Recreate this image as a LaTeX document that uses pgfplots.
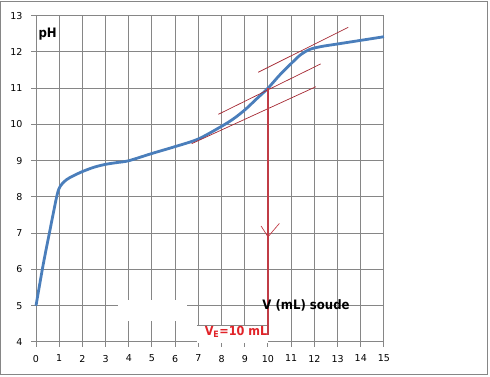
\documentclass[border=0pt]{standalone}
\usepackage{fontspec}
\setmainfont{DejaVu Sans}
\newfontfamily\condf{DejaVu Sans Condensed}
\usepackage{pgfplots}
\pgfplotsset{compat=1.18}
\definecolor{gridgray}{RGB}{134,134,134}
\definecolor{curveblue}{RGB}{74,126,187}
\definecolor{tanred}{RGB}{165,40,50}
\definecolor{vred}{RGB}{192,60,70}
\definecolor{txtred}{RGB}{225,35,40}
\begin{document}
\begin{tikzpicture}
\begin{axis}[
 scale only axis, width=348pt, height=326.3pt,
 xmin=0, xmax=15, ymin=4, ymax=13,
 xtick={0,...,15}, ytick={4,...,13},
 grid=major, grid style={gridgray, line width=1pt},
 axis line style={gridgray, line width=1pt},
 tick style={gridgray, line width=1pt},
 tick align=outside, major tick length=5pt,
 xtick pos=bottom, ytick pos=left,
 ticklabel style={font=\fontsize{9.5}{11}\selectfont, text=black},
 yticklabel style={xshift=-5pt},
 xticklabel style={yshift=-4.5pt},
 /pgf/number format/assume math mode=true,
 clip=false,
]
% outer frame and full bounding box
\path (axis cs:-1.552,3.035) rectangle (axis cs:19.57,13.433);
\draw[gridgray, line width=1pt] (axis cs:-1.509,3.09) rectangle (axis cs:19.48,13.405);
% white boxes
\fill[white] (axis cs:3.53,4.57) rectangle (axis cs:6.51,5.17);
\fill[white] (axis cs:6.94,3.985) rectangle (axis cs:10.0,4.47);
\draw[gridgray, line width=0.6pt] (axis cs:6.94,4.47) -- (axis cs:10.0,4.47);
% curve
\addplot[curveblue, line width=2.8pt, smooth, tension=0.5] coordinates {
(0,5) (0.3,6.1) (0.6,7.08) (0.9,8.03) (1.05,8.3) (1.3,8.47) (1.6,8.58) (2,8.7)
(2.5,8.82) (3,8.9) (3.5,8.95) (4,9.0) (5,9.2) (6,9.39) (7,9.6) (8,9.95)
(8.5,10.15) (9,10.4) (9.5,10.7) (10,11.0) (10.5,11.36) (11,11.68) (11.4,11.92)
(11.8,12.07) (12.3,12.15) (13,12.22) (14,12.32) (15,12.42)};
% tangents
\addplot[tanred, line width=0.7pt] coordinates {(9.58,11.44) (13.46,12.68)};
\addplot[tanred, line width=0.7pt] coordinates {(7.86,10.28) (12.27,11.67)};
\addplot[tanred, line width=0.7pt] coordinates {(6.71,9.47) (12.06,11.04)};
% vertical arrow
\addplot[vred, line width=1.3pt] coordinates {(10,11) (10,4.2)};
\addplot[vred, line width=0.7pt] coordinates {(9.70,7.20) (10,6.90) (10.49,7.27)};
% labels
\node[font=\condf\bfseries\fontsize{13}{15}\selectfont] at (axis cs:0.5,12.5) {pH};
\node[font=\condf\bfseries\fontsize{13}{15}\selectfont] at (axis cs:11.64,5.01) {V (mL) soude};
\node[font=\condf\bfseries\fontsize{12.5}{14}\selectfont, text=txtred] at (axis cs:8.62,4.27) {V\textsubscript{E}=10 mL};
\end{axis}
\end{tikzpicture}
\end{document}
